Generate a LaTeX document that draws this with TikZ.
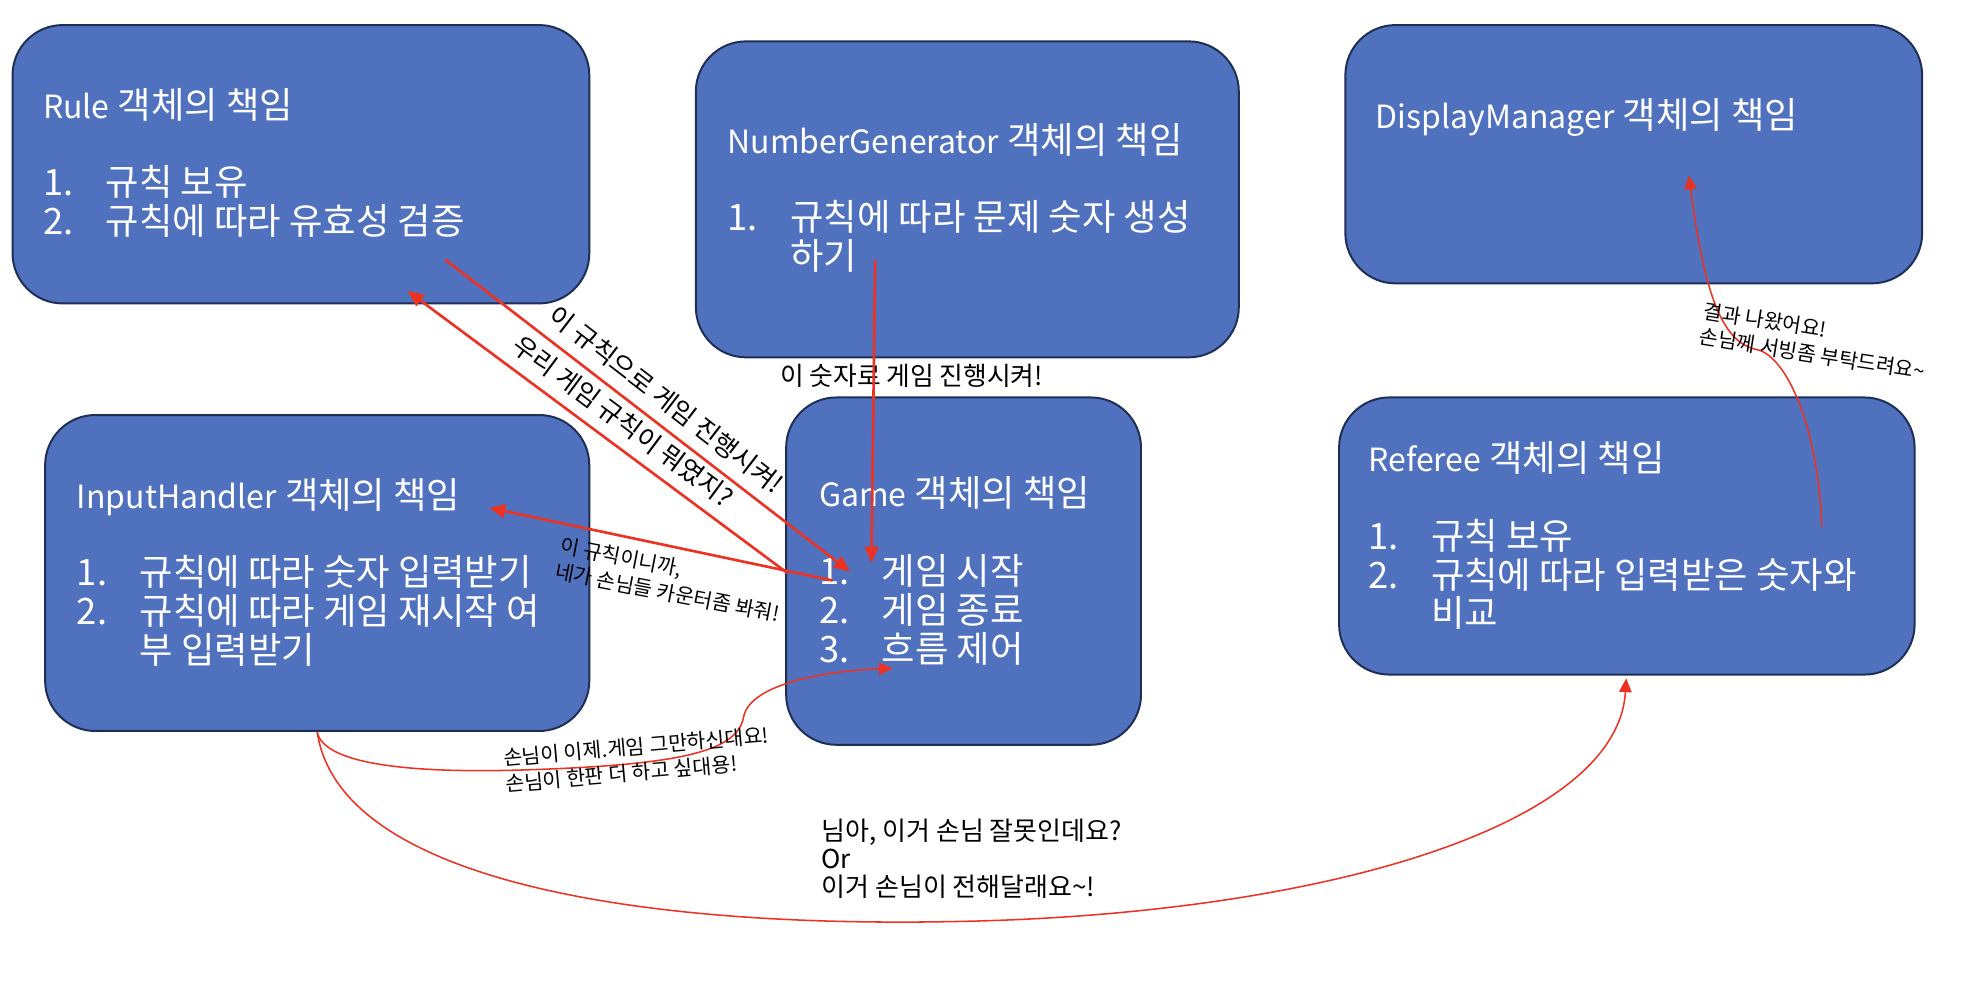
\documentclass[tikz,border=0pt]{standalone}
\usepackage{fontspec}
\setmainfont{Noto Sans CJK KR}
\newfontfamily\latin[Scale=0.88]{Noto Sans CJK KR}
\usetikzlibrary{arrows.meta,fit}
\definecolor{boxblue}{RGB}{80,114,190}
\definecolor{boxline}{RGB}{31,46,84}
\definecolor{wire}{RGB}{235,51,36}
\tikzset{
  >={Triangle[length=2.6mm,width=2.2mm]},
  box/.style={draw=boxline,fill=boxblue,line width=0.9pt,rounded corners=8mm,inner sep=0pt},
  duty/.style={text=white,font=\fontsize{16.5pt}{17.6pt}\selectfont,align=left,
    anchor=north west,inner sep=0pt},
  flow/.style={draw=wire,line width=1.2pt},
  thin flow/.style={draw=wire,line width=0.7pt,>={Triangle[length=2.2mm,width=2mm]}},
  talk/.style={font=\fontsize{11.7pt}{13pt}\selectfont,inner sep=1pt},
  whisper/.style={font=\fontsize{9.3pt}{11.8pt}\selectfont,align=left,inner sep=0pt,anchor=west},
  note/.style={font=\fontsize{11.8pt}{12.8pt}\selectfont,align=left,inner sep=0pt,anchor=west},
}
\newcommand{\dutyitem}[2]{\makebox[1cm][l]{#1}#2}
\begin{document}
\begin{tikzpicture}[x=0.02cm,y=-0.02cm]
\useasboundingbox (0,0) rectangle (1568,794);
% objects
\node[box,fit={(10,20) (470,242)}] (rule) {};
\node[box,fit={(555,33) (988,285)}] (numgen) {};
\node[box,fit={(1073,20) (1533,226)}] (display) {};
\node[box,fit={(36,331) (470,583)}] (input) {};
\node[box,fit={(627,317) (910,594)}] (game) {};
\node[box,fit={(1068,317) (1527,538)}] (referee) {};
% duties
\node[duty] (rule-txt) at (34,70) {{\latin Rule} 객체의 책임\\[17.6pt]\dutyitem{1.}{규칙 보유}\\\dutyitem{2.}{규칙에 따라 유효성 검증}};
\node[duty] (numgen-txt) at (580,98) {{\latin NumberGenerator} 객체의 책임\\[17.6pt]\dutyitem{1.}{규칙에 따라 문제 숫자 생성}\\\hspace*{1cm}하기};
\node[duty] (display-txt) at (1097,78) {{\latin DisplayManager} 객체의 책임};
\node[duty] (input-txt) at (61,381) {{\latin InputHandler} 객체의 책임\\[17.6pt]\dutyitem{1.}{규칙에 따라 숫자 입력받기}\\\dutyitem{2.}{규칙에 따라 게임 재시작 여}\\\hspace*{1cm}부 입력받기};
\node[duty] (game-txt) at (653,380) {{\latin Game} 객체의 책임\\[17.6pt]\dutyitem{1.}{게임 시작}\\\dutyitem{2.}{게임 종료}\\\dutyitem{3.}{흐름 제어}};
\node[duty] (referee-txt) at (1091,352) {{\latin Referee} 객체의 책임\\[17.6pt]\dutyitem{1.}{규칙 보유}\\\dutyitem{2.}{규칙에 따라 입력받은 숫자와}\\\hspace*{1cm}비교};
% connector ends
\coordinate (ruleA) at (355,207);
\coordinate (gameA) at (678,456);
\coordinate (ruleB) at (325,232);
\coordinate (gameB) at (628,457);
\coordinate (inputC) at (390,405);
\coordinate (gameC) at (664,463);
\coordinate (gameD) at (712,533);
\coordinate (refereeE) at (1297,541);
\coordinate (numgenF) at (698,207);
\coordinate (gameF) at (695,449);
\coordinate (refereeG) at (1453,420);
\coordinate (displayG) at (1347,140);
% messages
\draw[flow,->] (ruleA) -- node[talk,sloped,above=4pt,pos=.51] (lblA) {이 규칙으로 게임 진행시켜!} (gameA);
\draw[flow,<-] (ruleB) -- node[talk,sloped,above=4pt,pos=.53] (lblB) {우리 게임 규칙이 뭐였지?} (gameB);
\draw[flow,<-] (inputC) -- (gameC);
\node[whisper,rotate=-11] (lblC) at (445,445) {이 규칙이니까,\\네가 손님들 카운터좀 봐줘!};
\draw[thin flow,->] (input.south) .. controls (258,610) and (330,617) .. (420,614)
  .. controls (540,610) and (588,600) .. (593,572) .. controls (598,545) and (660,535) .. (gameD);
\node[whisper,rotate=5] (lblD) at (402,615) {손님이 이제.게임 그만하신대요!\\손님이 한판 더 하고 싶대용!};
\draw[thin flow,->] (input.south) .. controls (270,700) and (500,740) .. (760,735)
  .. controls (1050,730) and (1290,660) .. (refereeE);
\node[note] (lblE) at (655,685) {님아, 이거 손님 잘못인데요?\\Or\\이거 손님이 전해달래요\textasciitilde!};
\node[talk] (lblF) at (727,300) {이 숫자로 게임 진행시켜!};
\draw[flow,->] (numgenF) -- (gameF);
\draw[thin flow,->] (refereeG) .. controls (1450,340) and (1425,285) .. (1402,279)
  .. controls (1375,274) and (1360,240) .. (displayG);
\node[whisper,rotate=-9] (lblG) at (1357,258) {결과 나왔어요!\\손님께 서빙좀 부탁드려요\textasciitilde};
\end{tikzpicture}
\end{document}
